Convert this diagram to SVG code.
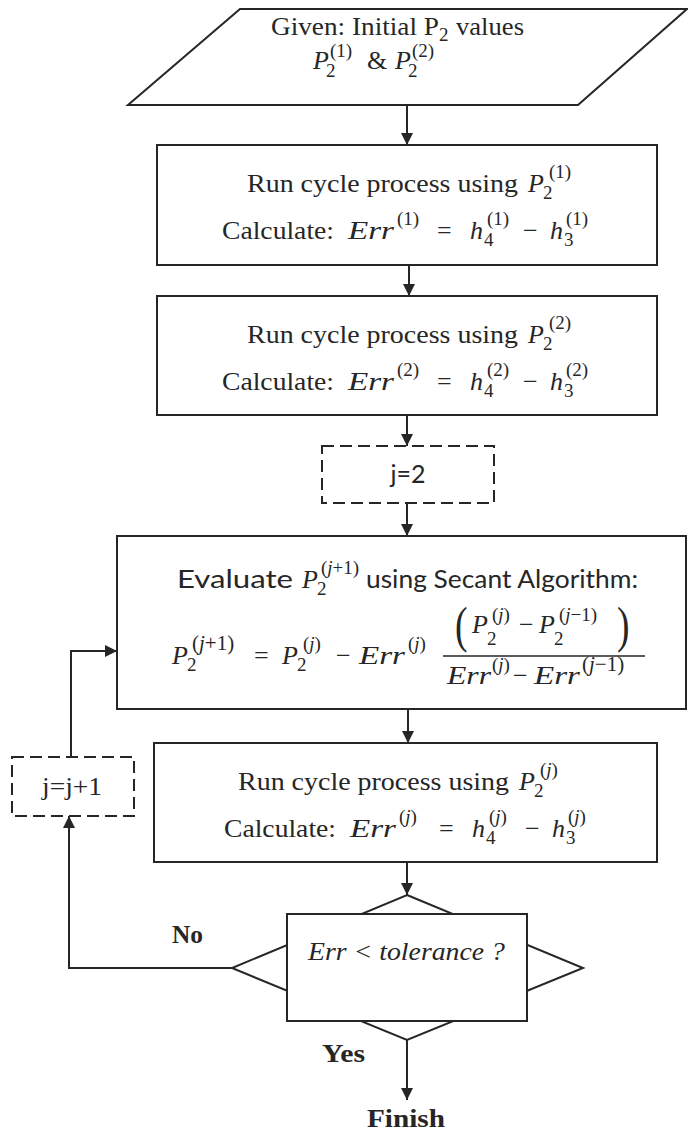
<svg xmlns="http://www.w3.org/2000/svg" width="688" height="1133" viewBox="0 0 688 1133">
<style>
.bg{fill:#fff}
.sh{fill:#fff;stroke:#262626;stroke-width:2}
.dash{fill:#fff;stroke:#262626;stroke-width:2;stroke-dasharray:12 6}
.ln{fill:none;stroke:#262626;stroke-width:2}
text{fill:#262626}
.t{font-family:"Liberation Serif",serif;font-size:26px}
.sans{font-family:Lato,"Liberation Sans",sans-serif;font-size:25px}
.m{font-family:"Liberation Serif",serif;font-size:26px;font-style:italic}
.s{font-family:"Liberation Serif",serif;font-size:19px}
.s2{font-family:"Liberation Serif",serif;font-size:21px}
.si{font-style:italic}
.par{font-family:"Liberation Serif",serif;font-size:50px}
.b{font-family:"Liberation Serif",serif;font-size:26px;font-weight:bold}
.it{font-family:"Liberation Serif",serif;font-size:26px;font-style:italic}
</style>
<defs>
<marker id="ah" markerUnits="userSpaceOnUse" markerWidth="12" markerHeight="12" refX="12" refY="6" orient="auto">
<path d="M0,0 L12,6 L0,12 Z" fill="#262626"/>
</marker>
</defs>
<rect class="bg" x="0" y="0" width="688" height="1133"/>

<g id="connectors">
<path class="ln" d="M407,105 V145" marker-end="url(#ah)"/>
<path class="ln" d="M409,265 V296" marker-end="url(#ah)"/>
<path class="ln" d="M407,415 V446" marker-end="url(#ah)"/>
<path class="ln" d="M407,503 V536" marker-end="url(#ah)"/>
<path class="ln" d="M408,709 V743" marker-end="url(#ah)"/>
<path class="ln" d="M407,862 V895" marker-end="url(#ah)"/>
<path class="ln" d="M407,1039 V1100" marker-end="url(#ah)"/>
<path class="ln" d="M232,968 H69 V816" marker-end="url(#ah)"/>
<path class="ln" d="M71,757 V651 H117" marker-end="url(#ah)"/>
</g>

<g id="start">
<polygon class="sh" points="240,9 687,9 578,105 128,105"/>
<text class="t" x="271" y="35" textLength="168" lengthAdjust="spacingAndGlyphs">Given:  Initial P</text>
<text class="s" x="439" y="41">2</text>
<text class="t" x="456" y="35" textLength="68" lengthAdjust="spacingAndGlyphs">values</text>
<text class="m" x="313" y="69">P</text>
<text class="s" x="326" y="77">2</text>
<text class="s" x="330" y="57">(1)</text>
<text class="t" x="367" y="69">&amp;</text>
<text class="m" x="395" y="69">P</text>
<text class="s" x="408" y="77">2</text>
<text class="s" x="412" y="57">(2)</text>
</g>

<g id="run1">
<rect class="sh" x="157" y="145" width="500" height="120"/>
<text class="t" x="247" y="192" textLength="271" lengthAdjust="spacingAndGlyphs">Run cycle process using</text>
<text class="m" x="528" y="192">P</text>
<text class="s" x="543" y="199">2</text>
<text class="s" x="549" y="178">(1)</text>
<text class="t" x="222" y="239" textLength="112" lengthAdjust="spacingAndGlyphs">Calculate:</text>
<text class="m" x="348" y="239" textLength="46" lengthAdjust="spacingAndGlyphs">Err</text>
<text class="s" x="397" y="225">(1)</text>
<text class="t" x="437" y="239">=</text>
<text class="m" x="470" y="239">h</text>
<text class="s" x="484" y="246">4</text>
<text class="s" x="487" y="225">(1)</text>
<text class="t" x="523" y="239">−</text>
<text class="m" x="550" y="239">h</text>
<text class="s" x="564" y="246">3</text>
<text class="s" x="566" y="225">(1)</text>
</g>

<g id="run2">
<rect class="sh" x="157" y="296" width="500" height="119"/>
<text class="t" x="247" y="343" textLength="271" lengthAdjust="spacingAndGlyphs">Run cycle process using</text>
<text class="m" x="528" y="343">P</text>
<text class="s" x="543" y="350">2</text>
<text class="s" x="549" y="329">(2)</text>
<text class="t" x="222" y="390" textLength="112" lengthAdjust="spacingAndGlyphs">Calculate:</text>
<text class="m" x="348" y="390" textLength="46" lengthAdjust="spacingAndGlyphs">Err</text>
<text class="s" x="397" y="376">(2)</text>
<text class="t" x="437" y="390">=</text>
<text class="m" x="470" y="390">h</text>
<text class="s" x="484" y="397">4</text>
<text class="s" x="487" y="376">(2)</text>
<text class="t" x="523" y="390">−</text>
<text class="m" x="550" y="390">h</text>
<text class="s" x="564" y="397">3</text>
<text class="s" x="566" y="376">(2)</text>
</g>

<g id="init-j">
<rect class="dash" x="322" y="446" width="172" height="57"/>
<text class="sans" x="408" y="483" text-anchor="middle">j=2</text>
</g>

<g id="secant">
<rect class="sh" x="117" y="536" width="569" height="173"/>
<text class="sans" x="177" y="588" textLength="116" lengthAdjust="spacingAndGlyphs">Evaluate</text>
<text class="m" x="302" y="588">P</text>
<text class="s" x="317" y="595">2</text>
<text class="s" x="321" y="574">(<tspan class="si">j</tspan>+1)</text>
<text class="sans" x="366" y="588" textLength="272" lengthAdjust="spacingAndGlyphs">using Secant Algorithm:</text>

<text class="m" x="172" y="664">P</text>
<text class="s" x="187" y="671">2</text>
<text class="s2" x="192" y="650">(<tspan class="si">j</tspan>+1)</text>
<text class="t" x="254" y="664">=</text>
<text class="m" x="282" y="664">P</text>
<text class="s" x="297" y="671">2</text>
<text class="s" x="303" y="650">(<tspan class="si">j</tspan>)</text>
<text class="t" x="336" y="664">−</text>
<text class="m" x="359" y="664" textLength="46" lengthAdjust="spacingAndGlyphs">Err</text>
<text class="s" x="408" y="650">(<tspan class="si">j</tspan>)</text>

<line class="ln" x1="443" y1="656" x2="645" y2="656" style="stroke-width:1.6"/>
<text class="par" x="455" y="642" transform="translate(455,0) scale(0.75,1) translate(-455,0)">(</text>
<text class="m" x="472" y="633">P</text>
<text class="s" x="487" y="645">2</text>
<text class="s" x="492" y="621">(<tspan class="si">j</tspan>)</text>
<text class="t" x="519" y="633">−</text>
<text class="m" x="539" y="633">P</text>
<text class="s" x="554" y="645">2</text>
<text class="s" x="559" y="621">(<tspan class="si">j</tspan>−1)</text>
<text class="par" x="617" y="642" transform="translate(617,0) scale(0.75,1) translate(-617,0)">)</text>

<text class="m" x="447" y="684" textLength="44" lengthAdjust="spacingAndGlyphs">Err</text>
<text class="s" x="492" y="671">(<tspan class="si">j</tspan>)</text>
<text class="t" x="513" y="684">−</text>
<text class="m" x="534" y="684" textLength="46" lengthAdjust="spacingAndGlyphs">Err</text>
<text class="s2" x="582" y="671">(<tspan class="si">j</tspan>−1)</text>
</g>

<g id="incr-j">
<rect class="dash" x="12" y="757" width="122" height="59"/>
<text class="t" x="42" y="795" textLength="60" lengthAdjust="spacingAndGlyphs">j=j+1</text>
</g>

<g id="run-j">
<rect class="sh" x="154" y="743" width="503" height="119"/>
<text class="t" x="238" y="790" textLength="271" lengthAdjust="spacingAndGlyphs">Run cycle process using</text>
<text class="m" x="519" y="790">P</text>
<text class="s" x="534" y="797">2</text>
<text class="s" x="540" y="776">(<tspan class="si">j</tspan>)</text>
<text class="t" x="224" y="837" textLength="112" lengthAdjust="spacingAndGlyphs">Calculate:</text>
<text class="m" x="350" y="837" textLength="46" lengthAdjust="spacingAndGlyphs">Err</text>
<text class="s" x="399" y="823">(<tspan class="si">j</tspan>)</text>
<text class="t" x="439" y="837">=</text>
<text class="m" x="472" y="837">h</text>
<text class="s" x="486" y="844">4</text>
<text class="s" x="489" y="823">(<tspan class="si">j</tspan>)</text>
<text class="t" x="525" y="837">−</text>
<text class="m" x="552" y="837">h</text>
<text class="s" x="566" y="844">3</text>
<text class="s" x="568" y="823">(<tspan class="si">j</tspan>)</text>
</g>

<g id="decision">
<polygon class="sh" points="407,895 583,968 407,1040 232,968"/>
<rect class="sh" x="287" y="914" width="240" height="107"/>
<text class="it" x="308" y="960" textLength="197" lengthAdjust="spacingAndGlyphs">Err &lt; tolerance ?</text>
</g>

<g id="labels">
<text class="b" x="172" y="943" textLength="31" lengthAdjust="spacingAndGlyphs">No</text>
<text class="b" x="322" y="1062" textLength="43" lengthAdjust="spacingAndGlyphs">Yes</text>
</g>

<g id="finish">
<text class="b" x="367" y="1127" textLength="78" lengthAdjust="spacingAndGlyphs">Finish</text>
</g>
</svg>
